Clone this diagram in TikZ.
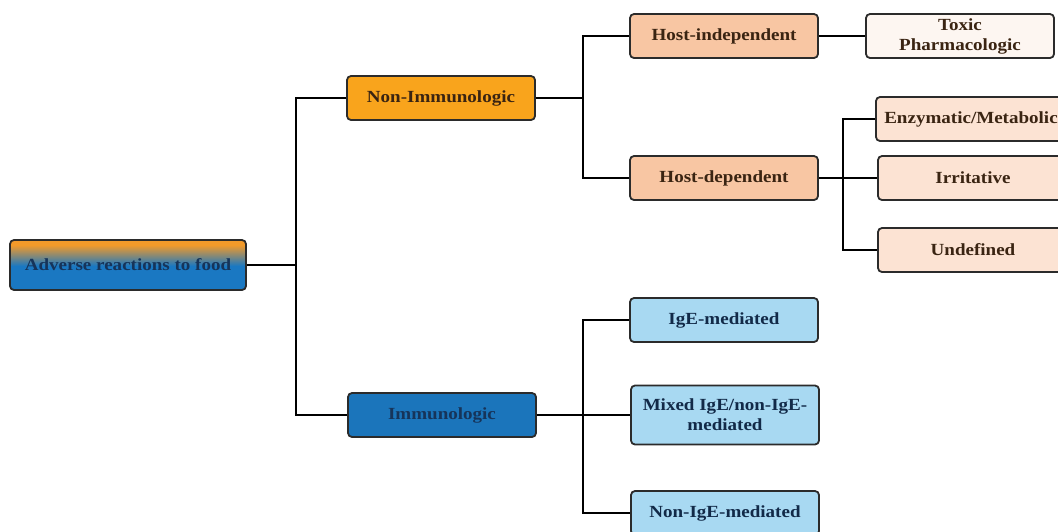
\documentclass[tikz,border=0pt]{standalone}
\usepackage{fontspec}
\setmainfont{Liberation Serif}[FakeStretch=1.12]
\usetikzlibrary{positioning}

\definecolor{rootorange}{HTML}{F39A2A}
\definecolor{rootblue}{HTML}{1A78C2}
\definecolor{nonimmfill}{HTML}{F9A41C}
\definecolor{immfill}{HTML}{1B75BB}
\definecolor{hostfill}{HTML}{F8C6A3}
\definecolor{leaffill}{HTML}{FCE3D3}
\definecolor{toxfill}{HTML}{FDF6F1}
\definecolor{lightblue}{HTML}{A8D9F2}
\definecolor{navytext}{HTML}{16345A}
\definecolor{browntext}{HTML}{3A2412}
\definecolor{edge}{HTML}{2B2B2B}

\pgfdeclareverticalshading{rootshade}{100bp}{color(0bp)=(rootblue); color(49bp)=(rootblue); color(70bp)=(rootorange); color(100bp)=(rootorange)}

\begin{document}
\begin{tikzpicture}[x=1pt, y=-1pt,
  nodebox/.style = {draw=edge, line width=1.8pt, rounded corners=4pt, align=center,
                    font=\fontsize{17}{20}\selectfont\bfseries, text=browntext,
                    minimum width=188pt, minimum height=44pt, inner sep=2pt},
  link/.style = {line width=1.5pt, black}]
\useasboundingbox (0,0) rectangle (1058,531);

\node[nodebox, shading=rootshade, text=navytext, minimum width=236pt, minimum height=50pt] (root) at (128,265) {Adverse reactions to food};
\node[nodebox, fill=nonimmfill] (nonimm) at (441,98) {Non-Immunologic};
\node[nodebox, fill=immfill, text=navytext] (immun) at (442,415) {Immunologic};

\node[nodebox, fill=hostfill] (hostind) at (724,36) {Host-independent};
\node[nodebox, fill=hostfill] (hostdep) at (724,178) {Host-dependent};
\node[nodebox, fill=toxfill] (toxic) at (960,36) {Toxic\\Pharmacologic};

\node[nodebox, fill=leaffill, minimum width=190pt] (enzym) at (971,119) {Enzymatic/Metabolic};
\node[nodebox, fill=leaffill, minimum width=190pt] (irrit) at (973,178) {Irritative};
\node[nodebox, fill=leaffill, minimum width=190pt] (undef) at (973,250) {Undefined};

\node[nodebox, fill=lightblue, text=navytext!80!black] (ige) at (724,320) {IgE-mediated};
\node[nodebox, fill=lightblue, text=navytext!80!black, minimum height=59pt] (mixed) at (725,415) {Mixed IgE/non-IgE-\\mediated};
\node[nodebox, fill=lightblue, text=navytext!80!black] (nonige) at (725,513) {Non-IgE-mediated};

% junctions
\coordinate (j1) at (296,265);
\coordinate (j2) at (583,98);
\coordinate (j3) at (843,178);
\coordinate (j4) at (583,415);

\draw[link] (root) -- (j1);
\draw[link] (nonimm.west) -| (j1) |- (immun.west);
\draw[link] (nonimm) -- (j2);
\draw[link] (hostind.west) -| (j2) |- (hostdep.west);
\draw[link] (hostind) -- (toxic);
\draw[link] (hostdep) -- (irrit);
\draw[link] (enzym.west) -| (j3) |- (undef.west);
\draw[link] (immun) -- (mixed);
\draw[link] (ige.west) -| (j4) |- (nonige.west);
\end{tikzpicture}
\end{document}
